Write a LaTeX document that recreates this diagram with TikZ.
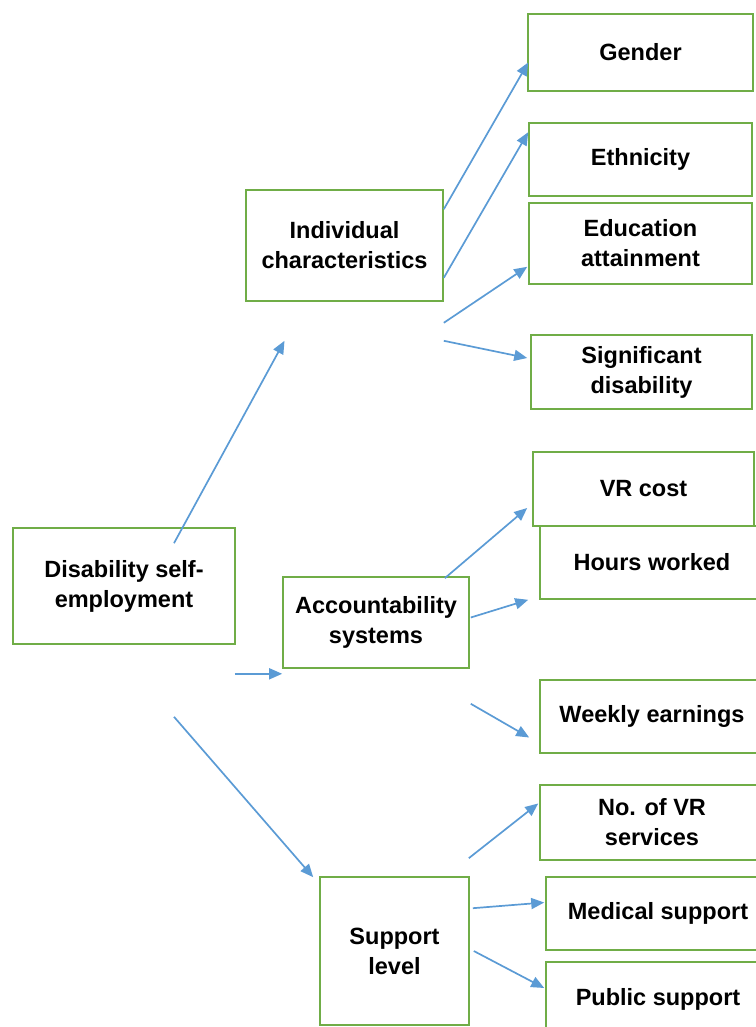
\documentclass[tikz,border=0pt]{standalone}
\usepackage{fontspec}
\setmainfont{Liberation Sans}
\usepackage{tikz}
\usetikzlibrary{calc,positioning,arrows.meta}

\definecolor{boxgreen}{HTML}{70AD47}
\definecolor{arrblue}{HTML}{5B9BD5}

\begin{document}
\begin{tikzpicture}[x=1pt,y=-1pt,
    box/.style={draw=boxgreen,line width=1.6pt,fill=white,inner sep=0pt,
                align=center,font=\fontsize{23.5}{30}\selectfont\bfseries},
    arr/.style={arrblue,line width=1.7pt,-{Triangle[length=13pt,width=11pt]}}]

    \useasboundingbox (0,0) rectangle (755,1027);

    % left and middle column
    \node[box,minimum width=222pt,minimum height=116pt] (dse)    at (124,586)   {Disability self-\\employment};
    \node[box,minimum width=197pt,minimum height=111pt] (indiv)  at (344.5,245.5) {Individual\\characteristics};
    \node[box,minimum width=186pt,minimum height=91pt]  (acc)    at (376,622.5) {Accountability\\systems};
    \node[box,minimum width=149pt,minimum height=148pt] (supp)   at (394.5,951) {Support\\level};

    % right column
    \node[box,minimum width=225pt,minimum height=77pt]  (gender) at (640.5,52.5)  {Gender};
    \node[box,minimum width=223pt,minimum height=73pt]  (ethn)   at (640.5,159.5) {Ethnicity};
    \node[box,minimum width=223pt,minimum height=81pt]  (educ)   at (640.5,243.5) {Education\\attainment};
    \node[box,minimum width=221pt,minimum height=74pt]  (sigdis) at (641.5,372)   {Significant\\disability};
    \node[box,minimum width=224pt,minimum height=73pt]  (hours)  at (652,562.5)   {Hours worked};
    \node[box,minimum width=221pt,minimum height=74pt]  (vrcost) at (643.5,489)   {VR cost};
    \node[box,minimum width=224pt,minimum height=73pt]  (weekly) at (652,716.5)   {Weekly earnings};
    \node[box,minimum width=224pt,minimum height=75pt]  (novr)   at (652,822.5)   {No. of VR\\services};
    \node[box,minimum width=224pt,minimum height=73pt]  (medic)  at (658,913.5)   {Medical support};
    \node[box,minimum width=224pt,minimum height=74pt]  (public) at (658,999)     {Public support};

	\draw[arr]  ($(dse.north)+(50,16)$) -- ($(indiv.south)+(-60,39)$);
	\draw[arr]  ($(dse.south east)+(-1,29)$) -- ($(acc.south west)+(0,5)$);
	\draw[arr]  ($(dse.south)+(50,72)$) -- ($(supp.north west)+(-6,1)$);

	\draw[arr]  ($(indiv.north east)+(0,20)$) -- ($(gender.west)+(1,10)$);
	\draw[arr]  ($(indiv.south east)+(0,-24)$) -- ($(ethn.north west)+(0,10)$);
	\draw[arr]  ($(indiv.south east)+(0,21)$) -- ($(educ.south west)+(-1,-18)$);
	\draw[arr]  ($(indiv.south east)+(0,39)$) -- ($(sigdis.west)+(-3,-14)$);

	\draw[arr]  ($(acc.north east)+(-25,2)$) -- ($(vrcost.west)+(-5,19)$);
	\draw[arr]  ($(acc.east)+(1,-5)$) -- ($(hours.south west)+(-11,0)$);
	\draw[arr]  ($(acc.south east)+(1,35)$) -- ($(weekly.west)+(-10,21)$);

	\draw[arr]  ($(supp.north east)+(-1,-18)$) -- ($(novr.west)+(-1,-19)$);
	\draw[arr]  ($(supp.north east)+(3,32)$) -- ($(medic.west)+(-1,-11)$);
	\draw[arr]  ($(supp.east)+(4,0)$) -- ($(public.west)+(-1,-11)$);

\end{tikzpicture}
\end{document}
